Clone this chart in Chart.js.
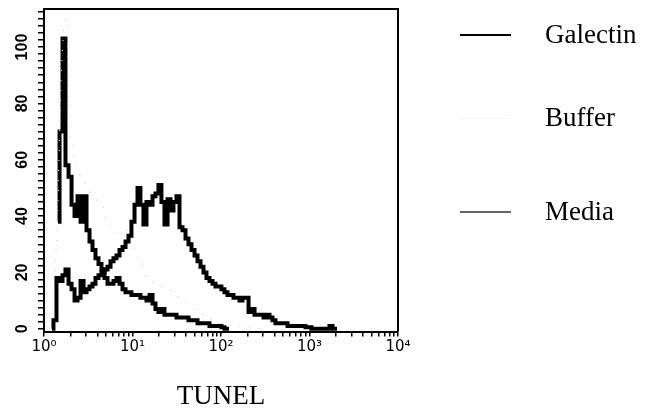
<!DOCTYPE html>
<html>
<head>
<meta charset="utf-8">
<script src="https://cdn.jsdelivr.net/npm/chart.js@4.4.1/dist/chart.umd.min.js"></script>
<style>
  html, body { margin: 0; padding: 0; background: #ffffff; }
  #wrap { width: 646px; height: 417px; position: relative; }
</style>
</head>
<body>
<div id="wrap"><canvas id="c" width="646" height="417"></canvas></div>
<script>
// TUNEL channel (log x axis) positions of the histogram bins
const tunel = [
  1.23, 1.33, 1.44, 1.56, 1.68, 1.82, 1.97, 2.13, 2.30, 2.49,
  2.69, 2.91, 3.14, 3.40, 3.67, 3.97, 4.29, 4.64, 5.02, 5.43,
  5.87, 6.34, 6.86, 7.42, 8.02, 8.67, 9.37, 10.1, 11.0, 11.8,
  12.8, 13.8, 15.0, 16.2, 17.5, 18.9, 20.4, 22.1, 23.9, 25.9,
  27.9, 30.2, 32.7, 35.3, 38.2, 41.3, 44.6, 48.3, 52.2, 56.4,
  61.0, 65.9, 71.3, 77.1, 83.4, 90.1, 97.4, 105, 114, 123,
  133, 144, 156, 168, 182, 197, 213, 230, 249, 269,
  291, 314, 340, 367, 397, 429, 464, 502, 543, 587,
  634, 686, 742, 802, 867, 937, 1010, 1095, 1184, 1280,
  1384, 1497, 1618, 1750, 1892, 2045
];
const galectin = [
  0, 3, 18, 17, 19, 21, 16, 14, 10, 11,
  17, 13, 14, 15, 16, 18, 19, 20, 21, 22,
  24, 25, 26, 28, 29, 31, 33, 38, 44, 50,
  44, 37, 45, 44, 47, 48, 51, 45, 37, 46,
  42, 45, 47, 36, 35, 32, 30, 28, 26, 24,
  22, 20, 18, 17, 16, 15, 15, 14, 13, 12,
  12, 11, 11, 10, 11, 11, 6, 7, 5, 5,
  5, 4, 5, 4, 3, 2, 2, 2, 2, 1,
  1, 1, 1, 1, 1, 0.5, 0.5, 0, 0, 0,
  0, 0, 0, 1, 0, 0
];
const buffer = [
  null, 17, 46, 90, 108, 110, 68, null, null, 55,
  null, null, null, 48, null, null, null, 43, 38, null,
  null, null, 34, null, null, 35, null, null, null, null,
  null, null, 17, null, null, null, null, null, 15, null,
  null, null, null, null, null, null, 8, null, null, null,
  null, null, null, null, null, 2, null, null, null, null,
  null, null, null, 1, null, null, null, null, null, null,
  0, null, null, null, null, null, null, null, null, null,
  null, null, null, null, null, null, null, null, null, null,
  null, null, null, null, null, null
];
const media = [
  null, null, 38, 70, 103, 58, 54, 44, 40, 47,
  38, 47, 35, 31, 28, 25, 23, 21, 18, 16,
  16, 17, 18, 16, 14, 13, 13, 12, 12, 12,
  11, 11, 10, 12, 9, 7, 6, 7, 5, 5,
  5, 5, 4, 4, 4, 4, 3, 3, 3, 2,
  2, 2, 2, 1, 1, 1, 1, 0.5, 0, 0,
  null, null, null, null, null, null, null, null, null, null,
  null, null, null, null, null, null, null, null, null, null,
  null, null, null, null, null, null, null, null, null, null,
  null, null, null, null, null, null
];
const seriesNames = ['Galectin', 'Buffer', 'Media'];
const yTickLabels = [0, 20, 40, 60, 80, 100];
const xDecades = [1, 10, 100, 1000, 10000];
const xTickLabels = ['10\u2070', '10\u00B9', '10\u00B2', '10\u00B3', '10\u2074'];
const xAxisTitle = 'TUNEL';

function pts(arr) { return tunel.map((x, i) => ({ x: x, y: arr[i] })); }

const framePlugin = {
  id: 'frame',
  afterDatasetsDraw(chart) {
    const a = chart.chartArea, ctx = chart.ctx;
    ctx.save();
    ctx.strokeStyle = '#000';
    ctx.lineWidth = 2;
    ctx.beginPath();
    ctx.moveTo(a.left, a.top);
    ctx.lineTo(a.right, a.top);
    ctx.lineTo(a.right, a.bottom);
    ctx.stroke();
    ctx.restore();
  }
};

const legendPlugin = {
  id: 'sideLegend',
  afterDraw(chart) {
    const ctx = chart.ctx;
    const ys = [35, 118, 212];
    ctx.save();
    chart.data.datasets.forEach((ds, i) => {
      const y = ys[i];
      ctx.strokeStyle = ds.legendColor;
      ctx.lineWidth = ds.legendWidth;
      ctx.beginPath();
      ctx.moveTo(460, y);
      ctx.lineTo(511, y);
      ctx.stroke();
      ctx.fillStyle = '#000';
      ctx.font = '27px "Liberation Serif", "Times New Roman", serif';
      ctx.textBaseline = 'middle';
      ctx.textAlign = 'left';
      ctx.fillText(ds.label, 545, y + 1);
    });
    ctx.restore();
  }
};

new Chart(document.getElementById('c'), {
  type: 'line',
  data: {
    datasets: [
      { label: seriesNames[0], data: pts(galectin), borderColor: '#000', borderWidth: 4,
        stepped: 'middle', pointRadius: 0, fill: false, legendColor: '#000', legendWidth: 2 },
      { label: seriesNames[1], data: pts(buffer), borderColor: '#cfcfcf', borderWidth: 1.2,
        borderDash: [1, 9], spanGaps: true, pointRadius: 0, fill: false, legendColor: '#f4f4f4', legendWidth: 1 },
      { label: seriesNames[2], data: pts(media), borderColor: '#000', borderWidth: 4,
        stepped: 'middle', pointRadius: 0, fill: false, legendColor: '#333', legendWidth: 1.5 }
    ]
  },
  options: {
    responsive: false,
    animation: false,
    events: [],
    layout: { padding: { left: 8, right: 248, top: 9, bottom: 4 } },
    plugins: { legend: { display: false }, tooltip: { enabled: false } },
    scales: {
      x: {
        type: 'logarithmic',
        min: 1, max: 10000,
        afterBuildTicks(scale) {
          const t = [];
          for (let k = 0; k < 4; k++) {
            for (let d = 1; d < 10; d++) t.push({ value: d * xDecades[k] });
          }
          t.push({ value: xDecades[4] });
          scale.ticks = t;
        },
        ticks: {
          autoSkip: false, maxRotation: 0, minRotation: 0, padding: 2,
          color: '#000',
          font: { family: '"DejaVu Sans", "Liberation Sans", Arial, sans-serif', size: 15 },
          callback(value) {
            const i = xDecades.indexOf(value);
            return i >= 0 ? xTickLabels[i] : '';
          }
        },
        grid: { drawOnChartArea: false, tickLength: 5, color: '#000', lineWidth: 1.5 },
        border: { color: '#000', width: 2 },
        title: {
          display: true, text: xAxisTitle, color: '#000',
          font: { family: '"Liberation Serif", "Times New Roman", serif', size: 27 },
          padding: { top: 22, bottom: 0 }
        }
      },
      y: {
        min: -1, max: 113.5,
        afterBuildTicks(scale) {
          const t = [];
          for (let v = 0; v <= 112.5; v += 2.5) t.push({ value: v });
          scale.ticks = t;
        },
        afterFit(scale) { scale.width = 36; scale.paddingTop = 0; scale.paddingBottom = 0; },
        ticks: {
          autoSkip: false, minRotation: 90, maxRotation: 90, padding: 2,
          crossAlign: 'center',
          color: '#000',
          font: { family: '"Liberation Sans", Arial, sans-serif', size: 16, weight: 'bold' },
          callback(value) { return yTickLabels.includes(value) ? String(value) : ''; }
        },
        grid: { drawOnChartArea: false, tickLength: 6, color: '#000', lineWidth: 1.5 },
        border: { color: '#000', width: 2 }
      }
    }
  },
  plugins: [framePlugin, legendPlugin]
});
</script>
</body>
</html>
